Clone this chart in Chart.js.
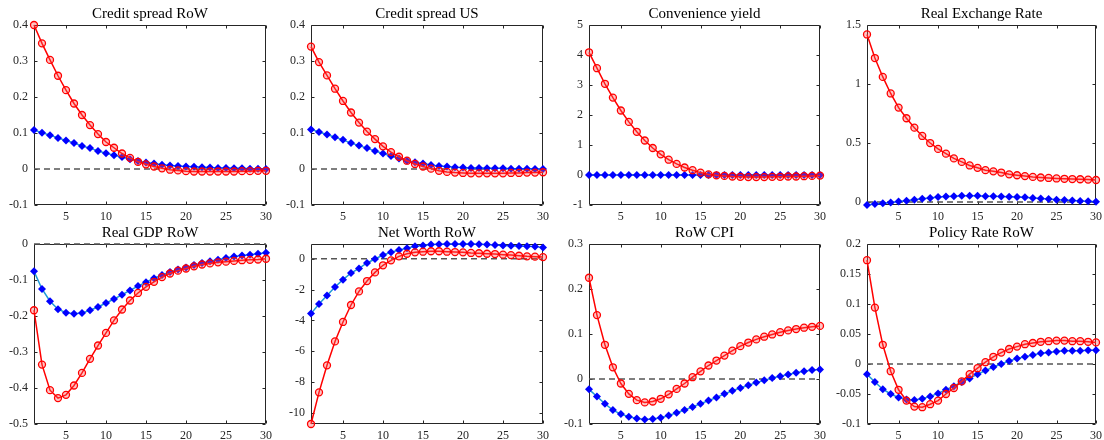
<!DOCTYPE html>
<html>
<head>
<meta charset="utf-8">
<script src="https://cdn.jsdelivr.net/npm/chart.js@4.4.1/dist/chart.umd.min.js"></script>
<style>
  html, body { margin: 0; padding: 0; background: #fff; }
  #page { position: relative; width: 1104px; height: 440px; overflow: hidden; }
  .panel { position: absolute; }
</style>
</head>
<body>
<div id="page"></div>
<script>
// horizon (quarters) and x ticks
const periods = [1, 2, 3, 4, 5, 6, 7, 8, 9, 10, 11, 12, 13, 14, 15, 16, 17, 18, 19, 20, 21, 22, 23, 24, 25, 26, 27, 28, 29, 30];
const xTicks = [5, 10, 15, 20, 25, 30];
const zeroX = [1, 30];
const zeroY = [0, 0];

const titles = ["Credit spread RoW", "Credit spread US", "Convenience yield", "Real Exchange Rate",
  "Real GDP RoW", "Net Worth RoW", "RoW CPI", "Policy Rate RoW"];

// red circles
const spreadRowRed = [0.400, 0.349, 0.303, 0.259, 0.219, 0.182, 0.150, 0.122, 0.097, 0.075, 0.059, 0.043, 0.031, 0.020, 0.013, 0.007, 0.002, -0.002, -0.004, -0.006, -0.007, -0.007, -0.007, -0.007, -0.007, -0.007, -0.006, -0.006, -0.005, -0.005];
const spreadUsRed = [0.340, 0.297, 0.260, 0.223, 0.189, 0.157, 0.129, 0.104, 0.083, 0.063, 0.047, 0.034, 0.023, 0.014, 0.007, 0.001, -0.005, -0.008, -0.010, -0.011, -0.012, -0.012, -0.012, -0.012, -0.012, -0.011, -0.011, -0.010, -0.010, -0.009];
const convYieldRed = [4.09, 3.56, 3.04, 2.58, 2.15, 1.77, 1.44, 1.15, 0.90, 0.69, 0.51, 0.37, 0.25, 0.16, 0.08, 0.02, -0.01, -0.03, -0.05, -0.06, -0.07, -0.07, -0.07, -0.06, -0.06, -0.05, -0.05, -0.04, -0.03, -0.02];
const rerRed = [1.42, 1.22, 1.06, 0.92, 0.80, 0.71, 0.63, 0.56, 0.50, 0.45, 0.41, 0.37, 0.34, 0.31, 0.29, 0.27, 0.26, 0.25, 0.235, 0.227, 0.22, 0.213, 0.208, 0.204, 0.200, 0.197, 0.195, 0.193, 0.190, 0.187];
const gdpRed = [-0.184, -0.335, -0.406, -0.428, -0.419, -0.393, -0.358, -0.319, -0.282, -0.247, -0.212, -0.182, -0.157, -0.136, -0.119, -0.105, -0.092, -0.082, -0.074, -0.068, -0.062, -0.057, -0.054, -0.051, -0.049, -0.047, -0.045, -0.044, -0.043, -0.041];
const netWorthRed = [-10.71, -8.66, -6.91, -5.36, -4.10, -3.00, -2.12, -1.45, -0.89, -0.43, -0.11, 0.15, 0.32, 0.41, 0.45, 0.48, 0.48, 0.45, 0.43, 0.41, 0.37, 0.35, 0.32, 0.30, 0.26, 0.23, 0.19, 0.15, 0.13, 0.10];
const cpiRed = [0.225, 0.142, 0.076, 0.026, -0.010, -0.033, -0.047, -0.052, -0.050, -0.044, -0.034, -0.022, -0.010, 0.004, 0.017, 0.030, 0.041, 0.052, 0.063, 0.073, 0.081, 0.088, 0.094, 0.099, 0.104, 0.108, 0.111, 0.114, 0.116, 0.118];
const policyRed = [0.173, 0.094, 0.032, -0.012, -0.043, -0.061, -0.071, -0.072, -0.067, -0.061, -0.050, -0.040, -0.029, -0.017, -0.007, 0.003, 0.012, 0.019, 0.025, 0.029, 0.033, 0.035, 0.037, 0.038, 0.039, 0.039, 0.038, 0.038, 0.037, 0.036];

// blue diamonds
const spreadRowBlue = [0.108, 0.101, 0.094, 0.086, 0.079, 0.072, 0.064, 0.058, 0.050, 0.044, 0.038, 0.033, 0.027, 0.022, 0.018, 0.015, 0.012, 0.010, 0.008, 0.007, 0.006, 0.005, 0.004, 0.003, 0.003, 0.002, 0.002, 0.001, 0.001, 0.000];
const spreadUsBlue = [0.110, 0.103, 0.096, 0.088, 0.081, 0.072, 0.065, 0.058, 0.050, 0.043, 0.036, 0.029, 0.023, 0.019, 0.015, 0.011, 0.008, 0.007, 0.005, 0.004, 0.003, 0.003, 0.002, 0.002, 0.002, 0.001, 0.001, 0.001, 0.000, 0.000];
const convYieldBlue = [0, 0, 0, 0, 0, 0, 0, 0, 0, 0, 0, 0, 0, 0, 0, 0, 0, 0, 0, 0, 0, 0, 0, 0, 0, 0, 0, 0, 0, 0];
const rerBlue = [-0.025, -0.017, -0.010, -0.003, 0.005, 0.011, 0.020, 0.028, 0.034, 0.042, 0.048, 0.050, 0.053, 0.053, 0.053, 0.050, 0.050, 0.048, 0.045, 0.042, 0.040, 0.034, 0.031, 0.025, 0.020, 0.017, 0.014, 0.008, 0.006, 0.003];
const gdpBlue = [-0.076, -0.125, -0.159, -0.181, -0.191, -0.194, -0.192, -0.184, -0.175, -0.164, -0.153, -0.141, -0.129, -0.117, -0.106, -0.095, -0.086, -0.078, -0.071, -0.065, -0.058, -0.053, -0.048, -0.044, -0.039, -0.035, -0.032, -0.030, -0.027, -0.024];
const netWorthBlue = [-3.56, -2.94, -2.38, -1.84, -1.36, -0.93, -0.63, -0.28, -0.02, 0.24, 0.41, 0.56, 0.67, 0.80, 0.86, 0.91, 0.93, 0.95, 0.95, 0.95, 0.95, 0.93, 0.91, 0.89, 0.86, 0.84, 0.82, 0.80, 0.78, 0.73];
const cpiBlue = [-0.023, -0.039, -0.055, -0.069, -0.078, -0.084, -0.088, -0.090, -0.089, -0.086, -0.081, -0.075, -0.069, -0.062, -0.055, -0.048, -0.041, -0.033, -0.026, -0.020, -0.014, -0.008, -0.003, 0.002, 0.006, 0.010, 0.014, 0.017, 0.020, 0.021];
const policyBlue = [-0.017, -0.030, -0.042, -0.050, -0.056, -0.059, -0.060, -0.058, -0.054, -0.049, -0.043, -0.037, -0.030, -0.024, -0.017, -0.011, -0.005, 0.000, 0.005, 0.009, 0.012, 0.015, 0.018, 0.019, 0.021, 0.022, 0.022, 0.022, 0.023, 0.023];

// y axis limits and tick labels per panel
const yMins = [-0.1, -0.1, -1, -0.025, -0.5, -10.71, -0.1, -0.1];
const yMaxs = [0.4, 0.4, 5, 1.5, 0, 0.95, 0.3, 0.2];
const yTicks = [
  [-0.1, 0, 0.1, 0.2, 0.3, 0.4],
  [-0.1, 0, 0.1, 0.2, 0.3, 0.4],
  [-1, 0, 1, 2, 3, 4, 5],
  [0, 0.5, 1, 1.5],
  [-0.5, -0.4, -0.3, -0.2, -0.1, 0],
  [-10, -8, -6, -4, -2, 0],
  [-0.1, 0, 0.1, 0.2, 0.3],
  [-0.1, -0.05, 0, 0.05, 0.1, 0.15, 0.2]
];

const redSeries = [spreadRowRed, spreadUsRed, convYieldRed, rerRed, gdpRed, netWorthRed, cpiRed, policyRed];
const blueSeries = [spreadRowBlue, spreadUsBlue, convYieldBlue, rerBlue, gdpBlue, netWorthBlue, cpiBlue, policyBlue];

// plot-box placement
const colLeft = [34, 311, 589, 867];
const colWidth = [232, 232, 231, 229];
const rowTop = [25, 244];
const boxHeight = 180;
const AXIS_W = 34, TITLE_H = 25, XAXIS_H = 18, PAD_R = 12;

const AX = '#262626';
const FONT = "'Liberation Serif', 'DejaVu Serif', serif";

// MATLAB-like box with inward ticks on all four sides, title centred on the box
const boxPlugin = {
  id: 'matBox',
  beforeDatasetsDraw(chart, args, opts) {
    const { ctx, chartArea: a, scales } = chart;
    ctx.save();
    ctx.strokeStyle = AX;
    ctx.lineWidth = 1;
    ctx.beginPath();
    const L = Math.round(a.left) + 0.5, R = Math.round(a.right) - 0.5;
    const T = Math.round(a.top) + 0.5, B = Math.round(a.bottom) - 0.5;
    ctx.rect(L, T, R - L, B - T);
    const tl = 3;
    scales.x.ticks.forEach(t => {
      const px = Math.round(scales.x.getPixelForValue(t.value)) + 0.5;
      ctx.moveTo(px, B); ctx.lineTo(px, B - tl);
      ctx.moveTo(px, T); ctx.lineTo(px, T + tl);
    });
    scales.y.ticks.forEach(t => {
      const py = Math.round(scales.y.getPixelForValue(t.value)) + 0.5;
      ctx.moveTo(L, py); ctx.lineTo(L + tl, py);
      ctx.moveTo(R, py); ctx.lineTo(R - tl, py);
    });
    ctx.stroke();

    ctx.fillStyle = '#000';
    ctx.font = '15px ' + FONT;
    ctx.textAlign = 'center';
    ctx.textBaseline = 'alphabetic';
    ctx.fillText(opts.text, (a.left + a.right) / 2, a.top - 7);
    ctx.restore();
  }
};

const page = document.getElementById('page');

titles.forEach((title, i) => {
  const row = Math.floor(i / 4), col = i % 4;
  const div = document.createElement('div');
  div.className = 'panel';
  div.style.left = (colLeft[col] - AXIS_W) + 'px';
  div.style.top = (rowTop[row] - TITLE_H) + 'px';
  div.style.width = (AXIS_W + colWidth[col] + PAD_R) + 'px';
  div.style.height = (TITLE_H + boxHeight + XAXIS_H) + 'px';
  const canvas = document.createElement('canvas');
  div.appendChild(canvas);
  page.appendChild(div);

  const ticksY = yTicks[i];

  new Chart(canvas, {
    type: 'line',
    data: {
      datasets: [
        {
          data: periods.map((p, k) => ({ x: p, y: redSeries[i][k] })),
          borderColor: '#ff0000',
          borderWidth: 1.5,
          pointStyle: 'circle',
          pointRadius: 3.5,
          pointBorderWidth: 1.3,
          pointBorderColor: '#ff0000',
          pointBackgroundColor: 'rgba(255, 90, 90, 0.35)',
          clip: false,
        },
        {
          data: periods.map((p, k) => ({ x: p, y: blueSeries[i][k] })),
          borderColor: '#1e9ad6',
          borderWidth: 1.5,
          pointStyle: 'rectRot',
          pointRadius: 4,
          pointBorderWidth: 0,
          pointBackgroundColor: '#0000ff',
          clip: false,
        },
        {
          data: zeroX.map((p, k) => ({ x: p, y: zeroY[k] })),
          borderColor: '#555555',
          borderWidth: 1.5,
          borderDash: [6, 4],
          pointRadius: 0,
          clip: false,
        },
      ],
    },
    options: {
      responsive: true,
      maintainAspectRatio: false,
      animation: false,
      events: [],
      layout: { padding: { left: 0, right: PAD_R, top: TITLE_H, bottom: 0 } },
      plugins: {
        legend: { display: false },
        tooltip: { enabled: false },
        title: { display: false },
        matBox: { text: title },
      },
      scales: {
        x: {
          type: 'linear',
          min: 1,
          max: 30,
          grid: { display: false, drawTicks: false },
          border: { display: false },
          afterBuildTicks: (s) => { s.ticks = xTicks.map(v => ({ value: v })); },
          afterFit: (s) => { s.height = XAXIS_H; },
          ticks: {
            autoSkip: false, maxRotation: 0, padding: 5,
            color: AX, font: { family: FONT, size: 12 },
          },
        },
        y: {
          type: 'linear',
          min: yMins[i],
          max: yMaxs[i],
          grid: { display: false, drawTicks: false },
          border: { display: false },
          afterBuildTicks: (s) => { s.ticks = ticksY.map(v => ({ value: v })); },
          afterFit: (s) => { s.width = AXIS_W; },
          ticks: {
            autoSkip: false, padding: 6,
            color: AX, font: { family: FONT, size: 12 },
            callback: (v) => String(+Number(v).toFixed(3)),
          },
        },
      },
    },
    plugins: [boxPlugin],
  });
});
</script>
</body>
</html>
